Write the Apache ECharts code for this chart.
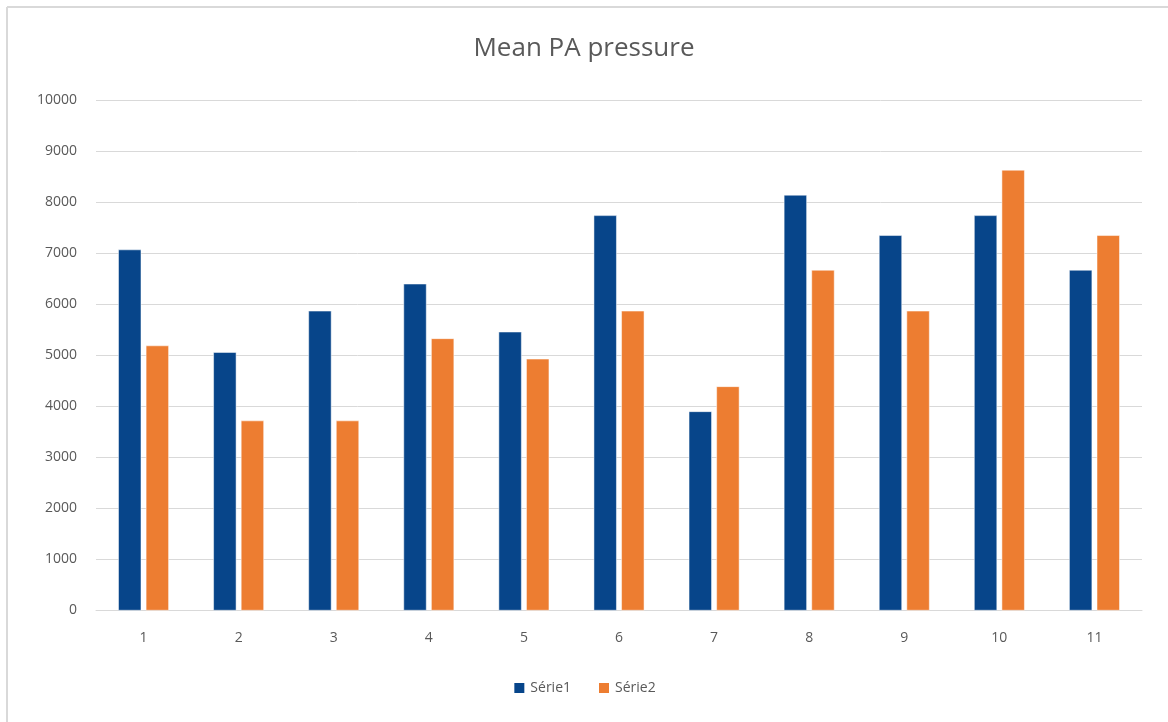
<!DOCTYPE html>
<html>
<head>
<meta charset="utf-8">
<script src="https://cdn.jsdelivr.net/npm/echarts@6/dist/echarts.min.js"></script>
<style>html,body{margin:0;padding:0;background:#fff}#c{width:1168px;height:722px}</style>
</head>
<body>
<div id="c"></div>
<script>
const categories = ['1','2','3','4','5','6','7','8','9','10','11'];
const serie1 = [7070, 5060, 5870, 6400, 5460, 7740, 3900, 8140, 7350, 7740, 6670];
const serie2 = [5190, 3720, 3720, 5330, 4930, 5870, 4390, 6670, 5870, 8630, 7350];
const seriesNames = ['Série1', 'Série2'];
const titleText = 'Mean PA pressure';

const chart = echarts.init(document.getElementById('c'));
const font = 'Open Sans';
chart.setOption({
  animation: false,
  backgroundColor: '#fff',
  title: {
    text: titleText, left: 'center', top: 31,
    textStyle: { fontFamily: font, fontSize: 26, fontWeight: 'normal', color: '#595959' }
  },
  legend: {
    data: seriesNames, bottom: 22, left: 'center', itemWidth: 12, itemHeight: 12, itemGap: 26,
    icon: 'rect',
    textStyle: { fontFamily: font, fontSize: 14, color: '#595959' }
  },
  grid: { left: 96, right: 26, top: 100, bottom: 111.5, containLabel: false },
  xAxis: {
    type: 'category', data: categories,
    axisLine: { lineStyle: { color: '#d9d9d9', width: 1 } },
    axisTick: { show: false },
    axisLabel: { fontFamily: font, fontSize: 14, color: '#595959', margin: 21 }
  },
  yAxis: {
    type: 'value', min: 0, max: 10000, interval: 1000,
    axisLine: { show: false }, axisTick: { show: false },
    splitLine: { lineStyle: { color: '#d9d9d9', width: 1 } },
    axisLabel: { fontFamily: font, fontSize: 14, color: '#595959', margin: 19, formatter: v => String(v) }
  },
  graphic: [
    { type: 'line', shape: { x1: 7, y1: 7, x2: 1168, y2: 7 }, style: { stroke: '#d9d9d9', lineWidth: 2 } },
    { type: 'line', shape: { x1: 7, y1: 7, x2: 7, y2: 722 }, style: { stroke: '#d9d9d9', lineWidth: 2 } }
  ],
  series: [
    { name: seriesNames[0], type: 'bar', data: serie1, barWidth: 23, barGap: '20%',
      itemStyle: { color: '#07458A', borderColor: '#fff', borderWidth: 0.5 } },
    { name: seriesNames[1], type: 'bar', data: serie2, barWidth: 23,
      itemStyle: { color: '#ED7D31', borderColor: '#fff', borderWidth: 0.5 } }
  ]
});
</script>
</body>
</html>
